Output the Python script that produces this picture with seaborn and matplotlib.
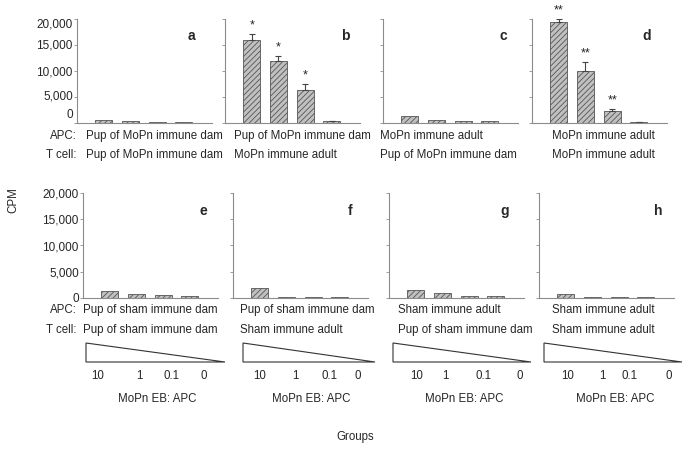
import seaborn as sns
import matplotlib.pyplot as plt
import matplotlib.patches as mpatches
import matplotlib.transforms as mtransforms
import pandas as pd
import numpy as np

sns.set_theme(style="white")
plt.rcParams['font.family'] = ['Liberation Sans', 'DejaVu Sans']
plt.rcParams['hatch.linewidth'] = 0.6

# data (CPM)
doses = ['10', '1', '0.1', '0']
panels = ['a', 'b', 'c', 'd', 'e', 'f', 'g', 'h']
cpm_a = [600, 450, 250, 200]
cpm_b = [16000, 11900, 6300, 300]
cpm_c = [1300, 600, 400, 300]
cpm_d = [19400, 10000, 2300, 200]
cpm_e = [1300, 800, 500, 300]
cpm_f = [1900, 200, 200, 200]
cpm_g = [1500, 1000, 400, 300]
cpm_h = [800, 200, 200, 150]
err_b = [1100, 1000, 1200, 0]
err_d = [600, 1700, 400, 0]
stars_b = ['*', '*', '*', '']
stars_d = ['**', '**', '**', '']

apc_labels = ['Pup of MoPn immune dam', 'Pup of MoPn immune dam', 'MoPn immune adult', 'MoPn immune adult',
              'Pup of sham immune dam', 'Pup of sham immune dam', 'Sham immune adult', 'Sham immune adult']
tcell_labels = ['Pup of MoPn immune dam', 'MoPn immune adult', 'Pup of MoPn immune dam', 'MoPn immune adult',
                'Pup of sham immune dam', 'Sham immune adult', 'Pup of sham immune dam', 'Sham immune adult']
yticks = [0, 5000, 10000, 15000, 20000]
ytick_labels = ['0', '5,000', '10,000', '15,000', '20,000']

values = [cpm_a, cpm_b, cpm_c, cpm_d, cpm_e, cpm_f, cpm_g, cpm_h]
df = pd.DataFrame({
    'panel': np.repeat(panels, len(doses)),
    'dose': doses * len(panels),
    'cpm': np.concatenate(values),
})
errors = {'b': err_b, 'd': err_d}
stars = {'b': stars_b, 'd': stars_d}

W, H = 696, 450
fig = plt.figure(figsize=(W / 100, H / 100), dpi=100)
fs = 8.3


def px_axes(x0, y0, w, h):
    return fig.add_axes([x0 / W, 1 - (y0 + h) / H, w / W, h / H])


# panel boxes in pixels (left, top, width, height)
boxes = {
    'a': (77, 19, 135, 104), 'b': (225, 19, 135, 104), 'c': (383, 19, 135, 104), 'd': (532, 19, 135, 104),
    'e': (83, 193, 135, 105), 'f': (233, 193, 135, 105), 'g': (389, 193, 135, 105), 'h': (539, 193, 135, 105),
}
letter_pos = {'a': (191, 36), 'b': (345, 36), 'c': (503, 36), 'd': (647, 36),
              'e': (203, 211), 'f': (350, 211), 'g': (505, 211), 'h': (658, 211)}
# the top-row tick labels sit a little off their ticks in the original
top_label_shift = [-10, -2, 0, -1, 4]
grey = '#8c8c8c'

for p in panels:
    ax = px_axes(*boxes[p])
    sub = df[df['panel'] == p]
    sns.barplot(data=sub, x='dose', y='cpm', order=doses, ax=ax, color='#c0c0c0',
                edgecolor='#555555', linewidth=0.6, width=0.64, errorbar=None, saturation=1)
    for bar in ax.patches:
        bar.set_hatch('//////')
    xs = [b.get_x() + b.get_width() / 2 for b in ax.patches]
    tops = [b.get_height() for b in ax.patches]
    if p in errors:
        e = errors[p]
        ax.errorbar(xs, tops, yerr=[np.zeros(len(e)), e], fmt='none', ecolor='#444444',
                    elinewidth=0.8, capsize=2, capthick=0.8)
        for x, t, er, s in zip(xs, tops, e, stars[p]):
            ax.text(x, t + er + 500, s, ha='center', va='bottom', fontsize=9, clip_on=False)
    ax.set_xlim(-1.0, 4.05)
    ax.set_ylim(0, 20000)
    ax.set_yticks(yticks)
    ax.set_xticks([])
    ax.set_xlabel('')
    ax.set_ylabel('')
    ax.tick_params(axis='y', length=2, width=0.6, color=grey, pad=1, direction='out', left=True)
    if p in ('a', 'e'):
        ax.set_yticklabels(ytick_labels, fontsize=8.5)
        if p == 'a':
            for lab, dy in zip(ax.get_yticklabels(), top_label_shift):
                lab.set_transform(lab.get_transform() +
                                  mtransforms.ScaledTranslation(0, -dy / 100, fig.dpi_scale_trans))
    else:
        ax.set_yticklabels([])
    for s in ('top', 'right'):
        ax.spines[s].set_visible(False)
    for s in ('left', 'bottom'):
        ax.spines[s].set_color(grey)
        ax.spines[s].set_linewidth(0.8)
    ax.patch.set_alpha(0)

# overlay for letters, group labels, dose wedges and axis titles
ov = fig.add_axes([0, 0, 1, 1])
ov.set_xlim(0, W)
ov.set_ylim(H, 0)
ov.axis('off')
ov.patch.set_alpha(0)

for p in panels:
    lx, ly = letter_pos[p]
    ov.text(lx, ly, p, fontsize=10, fontweight='bold', ha='center', va='center')

label_x = [86, 234, 380, 552, 83, 240, 398, 552]
row_y = [(136, 155)] * 4 + [(310, 330)] * 4
for i, p in enumerate(panels):
    ov.text(label_x[i], row_y[i][0], apc_labels[i], fontsize=fs, va='center', ha='left')
    ov.text(label_x[i], row_y[i][1], tcell_labels[i], fontsize=fs, va='center', ha='left')
for ya, yt in [(136, 155), (310, 330)]:
    ov.text(50, ya, 'APC:', fontsize=fs, va='center', ha='left')
    ov.text(46, yt, 'T cell:', fontsize=fs, va='center', ha='left')

wedges = [(86, 225), (243, 375), (393, 531), (544, 682)]
dose_x = [[98, 139, 172, 204], [260, 295, 330, 358], [417, 445, 483, 520], [568, 602, 629, 669]]
for (x0, x1), dx in zip(wedges, dose_x):
    tri = mpatches.Polygon([(x0, 343), (x0, 362), (x1, 362)], closed=True, fill=False,
                           edgecolor='#333333', linewidth=0.8)
    ov.add_patch(tri)
    for x, d in zip(dx, doses):
        ov.text(x, 376, d, fontsize=fs, ha='center', va='center')
    ov.text((x0 + x1) / 2 + 2, 399, 'MoPn EB: APC', fontsize=fs, ha='center', va='center')

ov.text(13, 200, 'CPM', fontsize=fs, rotation=90, ha='center', va='center')
ov.text(355, 437, 'Groups', fontsize=fs, ha='center', va='center')

fig.savefig('out.png', dpi=100)
